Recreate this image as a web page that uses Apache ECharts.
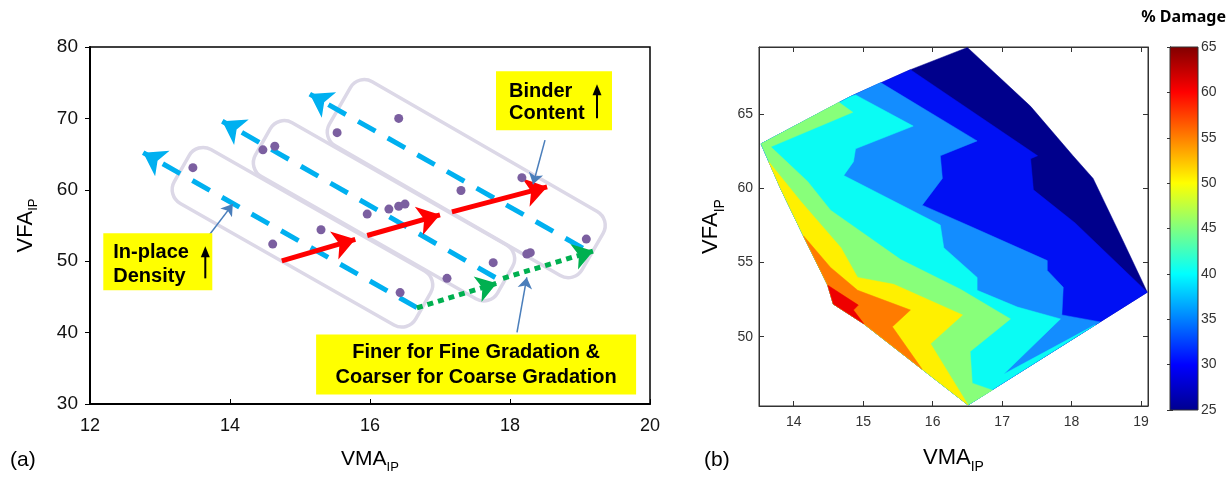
<!DOCTYPE html>
<html>
<head>
    <meta charset="UTF-8"/>
    <script src="https://cdn.jsdelivr.net/npm/echarts@6/dist/echarts.min.js"></script>
    <title>VMA / VFA</title>
    <style>
        html, body {margin: 0; padding: 0; background: #fff;}
        #main {width: 1228px; height: 479px;}
    </style>
</head>
<body>
<div id="main"></div>
<script type="text/javascript">
    // ---- (a) measured mixtures ----
    var vmaPts = [13.47, 14.47, 14.64, 14.61, 15.3, 15.53, 16.41, 15.96, 16.27, 16.41, 16.5, 17.3, 18.17, 19.09, 18.24, 18.29, 17.76, 17.1, 16.43];
    var vfaPts = [63.1, 65.6, 66.1, 52.4, 54.4, 68.0, 70.0, 56.6, 57.3, 57.7, 58.0, 59.9, 61.7, 53.1, 51.0, 51.2, 49.8, 47.6, 45.6];

    // dashed "in-place density" trends (start -> arrow tip)
    var densityLines = [
        [[16.67, 43.5], [12.76, 65.2]],
        [[17.79, 47.72], [13.89, 69.6]],
        [[19.04, 51.84], [15.14, 73.4]]
    ];
    // red "binder content" arrows
    var binderArrows = [
        [[14.74, 50.05], [15.79, 53.07]],
        [[15.96, 53.6], [17.0, 56.5]],
        [[17.17, 56.9], [18.53, 60.4]]
    ];
    // green dotted gradation arrows
    var gradationArrows = [
        [[16.67, 43.46], [17.81, 46.9]],
        [[17.9, 47.6], [19.19, 51.43]]
    ];
    // thin pointers from the notes
    var pointerArrows = [
        [[18.5, 66.95], [18.33, 60.77]],
        [[13.69, 53.49], [14.04, 58.0]],
        [[18.1, 40.03], [18.24, 47.72]]
    ];
    // rounded group boxes, centre line end to end
    var groupBoxes = [
        [[13.31, 62.97], [16.76, 43.74]],
        [[14.47, 66.73], [17.93, 47.4]],
        [[15.57, 71.76], [19.18, 51.36]]
    ];
    // notes: top-left corner and text lines
    var noteAt = [[17.8, 76.6], [12.19, 53.9], [15.23, 39.75]];
    var noteText = [['Binder', 'Content'], ['In-place', 'Density'], ['Finer for Fine Gradation &', 'Coarser for Coarse Gradation']];

    // ---- (b) % damage contour, nested regions (damage >= level) ----
    var damageLevels = [25, 30, 35, 40, 45, 50, 55, 60];
    var region25 = [[13.53, 63.0], [14.82, 66.2], [15.68, 68.0], [16.5, 69.5], [17.41, 65.53], [18.02, 62.2], [18.31, 60.67], [18.74, 56.47], [19.09, 53.0], [16.51, 45.4], [15.85, 47.8], [15.01, 50.87], [14.57, 52.2], [14.49, 53.47], [14.14, 56.8], [13.81, 60.0]];
    var region30 = [[15.68, 68.0], [17.51, 62.2], [17.41, 62.0], [17.45, 59.9], [18.05, 57.67], [19.09, 53.0], [16.51, 45.4], [15.85, 47.8], [15.01, 50.87], [14.57, 52.2], [14.49, 53.47], [14.14, 56.8], [13.81, 60.0], [13.53, 63.0], [14.82, 66.2]];
    var region35 = [[15.25, 67.13], [16.64, 63.2], [16.11, 62.2], [16.14, 60.67], [15.85, 58.87], [16.5, 57.53], [17.65, 55.13], [17.65, 54.47], [17.88, 53.33], [17.86, 51.47], [18.41, 51.0], [16.51, 45.4], [15.85, 47.8], [15.01, 50.87], [14.57, 52.2], [14.49, 53.47], [14.14, 56.8], [13.81, 60.0], [13.53, 63.0], [14.82, 66.2]];
    var region40 = [[14.89, 66.3], [15.72, 64.2], [14.89, 62.67], [14.86, 61.8], [14.72, 60.87], [16.11, 57.53], [16.16, 56.0], [16.64, 54.0], [16.64, 53.13], [17.22, 52.0], [17.84, 51.2], [17.02, 47.47], [18.34, 50.8], [16.51, 45.4], [15.85, 47.8], [15.01, 50.87], [14.57, 52.2], [14.49, 53.47], [14.14, 56.8], [13.81, 60.0], [13.53, 63.0], [14.82, 66.2]];
    var region45 = [[14.65, 65.8], [14.85, 65.13], [13.67, 62.8], [14.2, 60.47], [14.53, 58.53], [15.54, 55.2], [16.4, 53.2], [17.12, 51.2], [16.54, 49.0], [16.57, 46.87], [16.86, 46.4], [16.51, 45.4], [15.85, 47.8], [15.01, 50.87], [14.57, 52.2], [14.49, 53.47], [14.14, 56.8], [13.81, 60.0], [13.53, 63.0]];
    var region50 = [[13.64, 61.8], [14.1, 59.13], [14.68, 56.0], [14.92, 54.0], [15.44, 53.53], [16.43, 51.47], [15.97, 49.53], [16.51, 45.4], [15.85, 47.8], [15.01, 50.87], [14.57, 52.2], [14.49, 53.47], [14.14, 56.8], [13.81, 60.0]];
    var region55 = [[14.14, 56.8], [14.53, 54.67], [14.92, 53.13], [15.68, 51.8], [15.42, 50.67], [15.85, 47.8], [15.01, 50.87], [14.57, 52.2], [14.49, 53.47]];
    var region60 = [[14.49, 53.47], [14.93, 52.13], [14.86, 51.8], [15.01, 50.87], [14.57, 52.2]];
    var damageRegions = [region25, region30, region35, region40, region45, region50, region55, region60];
    var bandColors = ['#00008c', '#0010f4', '#138dff', '#0afcf4', '#88ff7a', '#fff000', '#ff7b00', '#ee0000'];

    var xTicksB = [14, 15, 16, 17, 18, 19];
    var yTicksB = [50, 55, 60, 65];
    var barRange = [25, 65];

    var FONT = '"Liberation Sans", Arial, sans-serif';

    function lineData(list) {
        return list.map(function (s) { return {coords: s}; });
    }

    function renderGroupBox(params, api) {
        var seg = groupBoxes[params.dataIndex];
        var a = api.coord(seg[0]), b = api.coord(seg[1]);
        var dx = b[0] - a[0], dy = b[1] - a[1];
        var len = Math.sqrt(dx * dx + dy * dy);
        var w = [62, 62, 74][params.dataIndex];
        return {
            type: 'rect',
            x: (a[0] + b[0]) / 2, y: (a[1] + b[1]) / 2,
            rotation: -Math.atan2(dy, dx),
            shape: {x: -len / 2, y: -w / 2, width: len, height: w, r: 16},
            style: {fill: 'none', stroke: '#dcd8e7', lineWidth: 3.5}
        };
    }

    // box size, text x, line y's, text align, arrow x (0 = none)
    var noteLayout = [
        {w: 116, h: 59, tx: 13, ty: [20, 42], align: 'left', ax: 101},
        {w: 109, h: 57, tx: 10, ty: [19, 43], align: 'left', ax: 102},
        {w: 320, h: 60, tx: 160, ty: [18, 43], align: 'center', ax: 0}
    ];

    function renderNote(params, api) {
        var i = params.dataIndex;
        var p = api.coord(noteAt[i]);
        var L = noteLayout[i];
        var kids = [{type: 'rect', shape: {x: 0, y: 0, width: L.w, height: L.h}, style: {fill: '#ffff00'}}];
        noteText[i].forEach(function (t, k) {
            kids.push({
                type: 'text',
                style: {
                    text: t, x: L.tx, y: L.ty[k],
                    fill: '#000', fontSize: 20, fontWeight: 'bold', fontFamily: FONT,
                    align: L.align, verticalAlign: 'middle'
                }
            });
        });
        if (L.ax) {
            kids.push({type: 'line', shape: {x1: L.ax, y1: L.h - 12, x2: L.ax, y2: 22}, style: {stroke: '#000', lineWidth: 2}});
            kids.push({type: 'polygon', shape: {points: [[L.ax, 13], [L.ax - 4.5, 24], [L.ax + 4.5, 24]]}, style: {fill: '#000'}});
        }
        return {type: 'group', x: p[0], y: p[1], children: kids};
    }

    function renderRegion(params, api) {
        var poly = damageRegions[params.dataIndex];
        return {
            type: 'polygon',
            shape: {points: poly.map(function (pt) { return api.coord(pt); })},
            style: {fill: bandColors[params.dataIndex], stroke: bandColors[params.dataIndex], lineWidth: 0.5}
        };
    }

    function renderColorBar(params, api) {
        var top = api.coord([0, barRange[1]]);
        var bot = api.coord([1, barRange[0]]);
        return {
            type: 'rect',
            shape: {x: top[0], y: top[1], width: bot[0] - top[0], height: bot[1] - top[1]},
            style: {
                stroke: '#333', lineWidth: 1,
                fill: new echarts.graphic.LinearGradient(0, 1, 0, 0, [
                    {offset: 0, color: '#00008f'},
                    {offset: 0.125, color: '#0000ff'},
                    {offset: 0.375, color: '#00ffff'},
                    {offset: 0.625, color: '#ffff00'},
                    {offset: 0.875, color: '#ff0000'},
                    {offset: 1, color: '#800000'}
                ])
            }
        };
    }

    var subName = function (size, subSize, drop) {
        return {
            rich: {
                m: {fontSize: size, fontFamily: FONT, color: '#000', verticalAlign: 'top'},
                s: {fontSize: subSize, fontFamily: FONT, color: '#000', verticalAlign: 'bottom', padding: [drop, 0, 0, 0]}
            }
        };
    };

    var myChart = echarts.init(document.getElementById('main'));
    var option = {
        animation: false,
        grid: [
            {left: 90, top: 47, width: 560, height: 364, show: true, borderColor: '#000', borderWidth: 1.5},
            {left: 759, top: 47, width: 389, height: 363, show: true, borderColor: '#333', borderWidth: 1},
            {left: 1170, top: 47, width: 28, height: 363}
        ],
        xAxis: [
            {
                gridIndex: 0, type: 'value', min: 12, max: 20, interval: 2,
                name: '{m|VMA}{s|IP}', nameLocation: 'middle', nameGap: 45,
                nameTextStyle: subName(21, 13, 12),
                axisLine: {lineStyle: {color: '#000', width: 2}},
                axisTick: {inside: true, length: 5, lineStyle: {color: '#000'}},
                axisLabel: {color: '#111', fontSize: 18, fontFamily: FONT, margin: 13},
                splitLine: {show: false}
            },
            {
                gridIndex: 1, type: 'value', min: 13.5, max: 19.1,
                name: '{m|VMA}{s|IP}', nameLocation: 'middle', nameGap: 41,
                nameTextStyle: subName(22, 14, 13),
                axisLine: {lineStyle: {color: '#333', width: 1}},
                axisTick: {inside: true, length: 5, customValues: xTicksB, lineStyle: {color: '#333'}},
                axisLabel: {color: '#333', fontSize: 14, fontFamily: FONT, margin: 9, customValues: xTicksB},
                splitLine: {show: false}
            },
            {
                gridIndex: 1, type: 'value', min: 13.5, max: 19.1, position: 'top',
                axisLine: {lineStyle: {color: '#333', width: 1}},
                axisTick: {inside: true, length: 5, customValues: xTicksB, lineStyle: {color: '#333'}},
                axisLabel: {show: false},
                splitLine: {show: false}
            },
            {gridIndex: 2, type: 'value', min: 0, max: 1, show: false}
        ],
        yAxis: [
            {
                gridIndex: 0, type: 'value', min: 30, max: 80, interval: 10,
                name: '{m|VFA}{s|IP}', nameLocation: 'middle', nameGap: 50,
                nameTextStyle: subName(22, 13, 12),
                axisLine: {show: true, lineStyle: {color: '#000', width: 2}},
                axisTick: {show: true, inside: false, length: 5, lineStyle: {color: '#000'}},
                axisLabel: {color: '#111', fontSize: 19, fontFamily: FONT, margin: 12},
                splitLine: {show: false}
            },
            {
                gridIndex: 1, type: 'value', min: 45.33, max: 69.53,
                name: '{m|VFA}{s|IP}', nameLocation: 'middle', nameGap: 32,
                nameTextStyle: subName(22, 14, 13),
                axisLine: {show: true, lineStyle: {color: '#333', width: 1}},
                axisTick: {show: true, inside: true, length: 5, customValues: yTicksB, lineStyle: {color: '#333'}},
                axisLabel: {color: '#333', fontSize: 14, fontFamily: FONT, margin: 6, customValues: yTicksB},
                splitLine: {show: false}
            },
            {
                gridIndex: 1, type: 'value', min: 45.33, max: 69.53, position: 'right',
                axisLine: {show: true, lineStyle: {color: '#333', width: 1}},
                axisTick: {show: true, inside: true, length: 5, customValues: yTicksB, lineStyle: {color: '#333'}},
                axisLabel: {show: false},
                splitLine: {show: false}
            },
            {
                gridIndex: 2, type: 'value', min: 25, max: 65, interval: 5, position: 'right',
                axisLine: {show: true, lineStyle: {color: '#333', width: 1}},
                axisTick: {show: true, inside: true, length: 3, lineStyle: {color: '#333'}},
                axisLabel: {color: '#333', fontSize: 14, fontFamily: FONT, margin: 3},
                splitLine: {show: false}
            },
            {
                gridIndex: 2, type: 'value', min: 25, max: 65, interval: 5, position: 'left',
                axisLine: {show: true, lineStyle: {color: '#333', width: 1}},
                axisTick: {show: true, inside: true, length: 3, lineStyle: {color: '#333'}},
                axisLabel: {show: false},
                splitLine: {show: false}
            }
        ],
        graphic: [
            {type: 'text', left: 10, top: 450, style: {text: '(a)', fontSize: 21, fontFamily: FONT, fill: '#000'}},
            {type: 'text', left: 704, top: 450, style: {text: '(b)', fontSize: 21, fontFamily: FONT, fill: '#000'}},
            {type: 'text', right: 2, top: 9, style: {text: '% Damage', fontSize: 16, fontWeight: 'bold', fontFamily: '"Noto Sans", sans-serif', fill: '#000'}}
        ],
        series: [
            {
                type: 'custom', xAxisIndex: 0, yAxisIndex: 0, renderItem: renderGroupBox,
                data: groupBoxes.map(function (s) { return s[0]; }), z: 1
            },
            {
                type: 'lines', coordinateSystem: 'cartesian2d', xAxisIndex: 0, yAxisIndex: 0,
                symbol: ['none', 'arrow'], symbolSize: [16, 22],
                lineStyle: {color: '#00b0f0', width: 5, type: [20, 14], opacity: 1},
                data: lineData(densityLines), z: 2
            },
            {
                type: 'lines', coordinateSystem: 'cartesian2d', xAxisIndex: 0, yAxisIndex: 0,
                symbol: ['none', 'arrow'], symbolSize: [18, 22],
                lineStyle: {color: '#ff0000', width: 5, opacity: 1},
                data: lineData(binderArrows), z: 3
            },
            {
                type: 'lines', coordinateSystem: 'cartesian2d', xAxisIndex: 0, yAxisIndex: 0,
                symbol: ['none', 'arrow'], symbolSize: [17, 20],
                lineStyle: {color: '#00b050', width: 5, type: [6, 5], opacity: 1},
                data: lineData(gradationArrows), z: 3
            },
            {
                type: 'lines', coordinateSystem: 'cartesian2d', xAxisIndex: 0, yAxisIndex: 0,
                symbol: ['none', 'arrow'], symbolSize: [7, 11],
                lineStyle: {color: '#4a7ebb', width: 1.5, opacity: 1},
                data: lineData(pointerArrows), z: 4
            },
            {
                type: 'scatter', xAxisIndex: 0, yAxisIndex: 0, symbolSize: 9,
                itemStyle: {color: '#7b5fa0', opacity: 1},
                data: vmaPts.map(function (v, i) { return [v, vfaPts[i]]; }), z: 5
            },
            {
                type: 'custom', xAxisIndex: 0, yAxisIndex: 0, renderItem: renderNote,
                data: noteAt, z: 6
            },
            {
                type: 'custom', xAxisIndex: 1, yAxisIndex: 1, renderItem: renderRegion,
                data: damageLevels.map(function (lv, i) { return damageRegions[i][0]; })
            },
            {
                type: 'custom', xAxisIndex: 3, yAxisIndex: 3, renderItem: renderColorBar,
                data: [[0, barRange[1]]]
            }
        ]
    };
    myChart.setOption(option);
</script>
</body>
</html>
